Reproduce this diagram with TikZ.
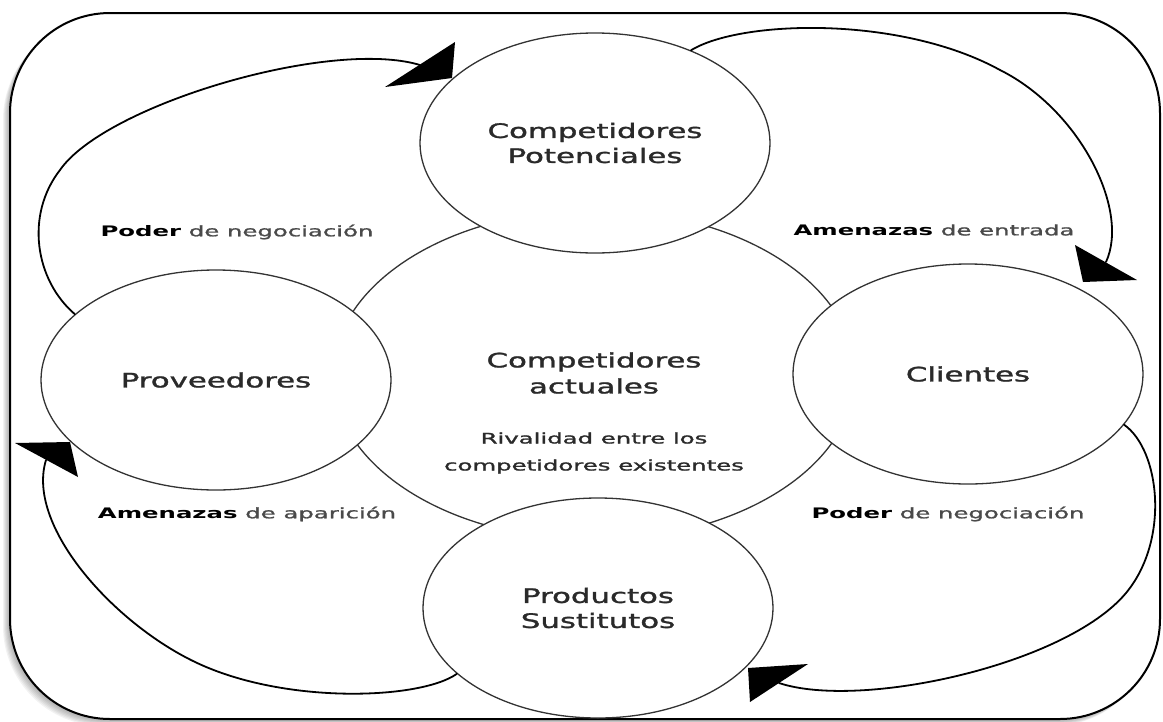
\documentclass[tikz,border=0pt]{standalone}
\usepackage{fontspec}
\usepackage{graphicx}
\setmainfont{DejaVu Sans}[UprightFeatures={FakeBold=1.2}]
\usetikzlibrary{shapes.geometric}
\definecolor{txt}{HTML}{2A2A2A}
\definecolor{lab}{HTML}{4A4A4A}
\definecolor{edge}{HTML}{333333}
\newcommand\wideA[1]{\scalebox{1.54}[1]{#1}}
\newcommand\wideB[1]{\scalebox{1.68}[1]{#1}}
\tikzset{
  ell/.style={ellipse, draw=edge, line width=1.3pt, fill=white, inner sep=0pt,
    minimum width=350pt, minimum height=220pt, text=txt, align=center,
    font=\fontsize{20}{25}\selectfont},
  bigtxt/.style={text=txt, align=center, font=\fontsize{20}{26}\selectfont},
  smalltxt/.style={text=txt, align=center, font=\fontsize{14.5}{27}\selectfont},
  lbl/.style={text=black, font=\fontsize{14.5}{18}\selectfont},
  conn/.style={draw=black, line width=1.8pt, line cap=round},
  head/.style={fill=black},
  frame/.style={draw=black, line width=2pt, fill=white, rounded corners=100pt}
}
\begin{document}
\begin{tikzpicture}[x=1pt,y=-1pt]
\useasboundingbox (0,0) rectangle (1163,721);
% frame shadow
\foreach \i in {1,...,7}{
  \fill[black, opacity=0.05, rounded corners=100pt] (10-\i,13+\i) rectangle (1160-\i,719+\i);
}
\draw[frame] (10,13) rectangle (1160,719);
% central ellipse
\node[ell, minimum width=522pt, minimum height=330pt] (act) at (594,375) {};
\node[bigtxt] (acttxt) at (594,373) {\wideA{Competidores}\\\wideA{actuales}};
\node[smalltxt] (riv) at (594,453) {\wideB{Rivalidad entre los}\\\wideB{competidores existentes}};
% outer ellipses
\node[ell] (pot) at (595,143) {\wideA{Competidores}\\\wideA{Potenciales}};
\node[ell] (prov) at (216,380) {\wideA{Proveedores}};
\node[ell] (cli) at (968,374) {\wideA{Clientes}};
\node[ell] (prod) at (598,608) {\wideA{Productos}\\\wideA{Sustitutos}};
% arrow head coordinates
\coordinate (h1t) at (452,78);  \coordinate (h1a) at (455,42);  \coordinate (h1b) at (385,87);  \coordinate (h1m) at (420,65);
\coordinate (h2t) at (1083,282);\coordinate (h2a) at (1075,245);\coordinate (h2b) at (1137,280);\coordinate (h2m) at (1106,262);
\coordinate (h3t) at (748,668); \coordinate (h3a) at (750,702); \coordinate (h3b) at (808,664); \coordinate (h3m) at (779,683);
\coordinate (h4t) at (70,442);  \coordinate (h4a) at (15,443);  \coordinate (h4b) at (78,477);  \coordinate (h4m) at (46,460);
\coordinate (w1) at (60,170);
\coordinate (w2) at (1000,70);
\coordinate (w3) at (1126,593);
\coordinate (w4) at (191,660);
% connectors
\draw[conn] (prov.155) .. controls (35,280) and (25,215) .. (w1)
  .. controls (105,105) and (330,38) .. (h1m);
\fill[head] (h1t) -- (h1a) -- (h1b) -- cycle;
\draw[conn] (pot.44) .. controls (740,20) and (900,15) .. (w2)
  .. controls (1080,110) and (1130,210) .. (h2m);
\fill[head] (h2t) -- (h2a) -- (h2b) -- cycle;
\draw[conn] (cli.-18) .. controls (1160,450) and (1170,540) .. (w3)
  .. controls (1066,665) and (860,710) .. (h3m);
\fill[head] (h3t) -- (h3a) -- (h3b) -- cycle;
\draw[conn] (prod.205) .. controls (420,700) and (280,705) .. (w4)
  .. controls (111,620) and (26,525) .. (h4m);
\fill[head] (h4t) -- (h4a) -- (h4b) -- cycle;
% labels
\node[lbl] (l1) at (237,232) {\wideB{\textbf{Poder} \textcolor{lab}{de negociación}}};
\node[lbl] (l2) at (934,230) {\wideB{\textbf{Amenazas} \textcolor{lab}{de entrada}}};
\node[lbl] (l3) at (247,514) {\wideB{\textbf{Amenazas} \textcolor{lab}{de aparición}}};
\node[lbl] (l4) at (948,514) {\wideB{\textbf{Poder} \textcolor{lab}{de negociación}}};
\end{tikzpicture}
\end{document}
